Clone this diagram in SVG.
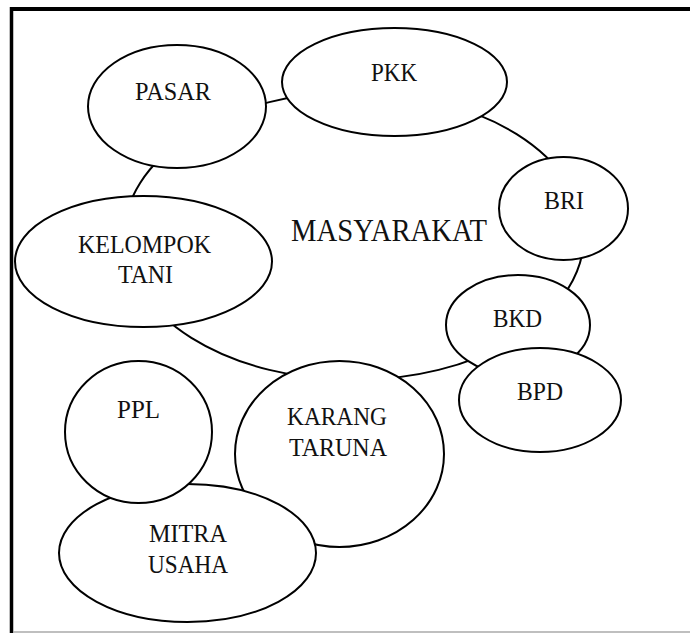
<svg xmlns="http://www.w3.org/2000/svg" width="690" height="633" viewBox="0 0 690 633">
<style>
.n{fill:#fff;stroke:#000;stroke-width:2}
.t{font-family:"Liberation Serif","Times New Roman",serif;font-size:26px;fill:#111;text-anchor:middle}
.big{font-size:31px}
</style>
<rect x="0" y="0" width="690" height="633" fill="#fff"/>
<g id="frame">
<line x1="11.5" y1="9" x2="690" y2="9" stroke="#000" stroke-width="4"/>
<line x1="11.5" y1="7" x2="11.5" y2="633" stroke="#000" stroke-width="3.5"/>
<line x1="13" y1="632" x2="690" y2="632" stroke="#aaa" stroke-width="1.5"/>
</g>
<g id="connectors"></g>
<g id="masyarakat">
<ellipse class="n" cx="354" cy="236" rx="230" ry="144"/>
<text class="t big" x="389" y="241" textLength="196" lengthAdjust="spacingAndGlyphs">MASYARAKAT</text>
</g>
<g id="pasar">
<ellipse class="n" cx="177" cy="106.5" rx="89" ry="61.5"/>
<text class="t" x="173" y="100" textLength="76" lengthAdjust="spacingAndGlyphs">PASAR</text>
</g>
<g id="pkk">
<ellipse class="n" cx="394.5" cy="82" rx="112.5" ry="54"/>
<text class="t" x="394" y="81" textLength="46" lengthAdjust="spacingAndGlyphs">PKK</text>
</g>
<g id="kelompok-tani">
<ellipse class="n" cx="143.5" cy="261.5" rx="128.5" ry="65.5"/>
<text class="t" x="144.5" y="253" textLength="133" lengthAdjust="spacingAndGlyphs">KELOMPOK</text>
<text class="t" x="145.5" y="283" textLength="55" lengthAdjust="spacingAndGlyphs">TANI</text>
</g>
<g id="bri">
<ellipse class="n" cx="563.5" cy="208.5" rx="64.5" ry="51.5"/>
<text class="t" x="564" y="209" textLength="40" lengthAdjust="spacingAndGlyphs">BRI</text>
</g>
<g id="bkd">
<ellipse class="n" cx="518" cy="325" rx="72" ry="50"/>
<text class="t" x="517.5" y="327" textLength="49" lengthAdjust="spacingAndGlyphs">BKD</text>
</g>
<g id="bpd">
<ellipse class="n" cx="540" cy="400" rx="81" ry="52"/>
<text class="t" x="540" y="400" textLength="46" lengthAdjust="spacingAndGlyphs">BPD</text>
</g>
<g id="karang-taruna">
<ellipse class="n" cx="339.5" cy="454" rx="104.5" ry="93"/>
<text class="t" x="337" y="425" textLength="100" lengthAdjust="spacingAndGlyphs">KARANG</text>
<text class="t" x="338" y="456" textLength="98" lengthAdjust="spacingAndGlyphs">TARUNA</text>
</g>
<g id="mitra-usaha">
<ellipse class="n" cx="187.5" cy="553" rx="128.5" ry="69"/>
<text class="t" x="188" y="542" textLength="78" lengthAdjust="spacingAndGlyphs">MITRA</text>
<text class="t" x="188" y="573" textLength="80" lengthAdjust="spacingAndGlyphs">USAHA</text>
</g>
<g id="ppl">
<ellipse class="n" cx="138.5" cy="432" rx="73.5" ry="71"/>
<text class="t" x="138.5" y="418" textLength="43" lengthAdjust="spacingAndGlyphs">PPL</text>
</g>
</svg>
